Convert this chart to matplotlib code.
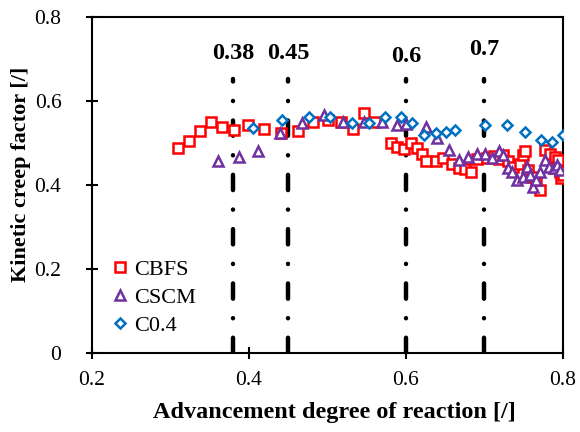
import matplotlib
matplotlib.use("Agg")
import matplotlib.pyplot as plt

plt.rcParams['font.family'] = ['Liberation Serif', 'DejaVu Serif']
plt.rcParams['lines.scale_dashes'] = False

cbfs_x = [0.309, 0.324, 0.337, 0.351, 0.365, 0.381, 0.399, 0.419, 0.441, 0.462,
          0.482, 0.501, 0.517, 0.533, 0.546, 0.561, 0.581, 0.589, 0.598, 0.607,
          0.614, 0.621, 0.626, 0.638, 0.647, 0.658, 0.667, 0.675, 0.683, 0.691,
          0.703, 0.712, 0.718, 0.724, 0.730, 0.736, 0.745, 0.749, 0.752, 0.756,
          0.760, 0.766, 0.771, 0.777, 0.783, 0.788, 0.790, 0.794, 0.796, 0.798, 0.800]
cbfs_y = [0.487, 0.504, 0.529, 0.551, 0.539, 0.531, 0.543, 0.533, 0.525, 0.529,
          0.549, 0.555, 0.549, 0.533, 0.571, 0.549, 0.501, 0.490, 0.485, 0.501,
          0.487, 0.474, 0.458, 0.458, 0.465, 0.450, 0.440, 0.437, 0.432, 0.462,
          0.465, 0.470, 0.462, 0.471, 0.456, 0.444, 0.451, 0.471, 0.480, 0.436,
          0.420, 0.404, 0.388, 0.483, 0.475, 0.440, 0.467, 0.460, 0.432, 0.416, 0.425]

cscm_x = [0.361, 0.387, 0.412, 0.439, 0.468, 0.495, 0.520, 0.546, 0.569, 0.588,
          0.600, 0.625, 0.640, 0.655, 0.668, 0.679, 0.691, 0.701, 0.709, 0.718,
          0.724, 0.730, 0.735, 0.741, 0.749, 0.754, 0.758, 0.762, 0.766, 0.771,
          0.777, 0.782, 0.788, 0.792, 0.796]
cscm_y = [0.457, 0.466, 0.481, 0.525, 0.547, 0.567, 0.551, 0.549, 0.549, 0.543,
          0.545, 0.539, 0.511, 0.483, 0.460, 0.467, 0.474, 0.475, 0.464, 0.482,
          0.471, 0.440, 0.432, 0.412, 0.420, 0.444, 0.424, 0.396, 0.412, 0.432,
          0.460, 0.444, 0.440, 0.448, 0.436]

c04_x = [0.405, 0.442, 0.476, 0.503, 0.531, 0.553, 0.573, 0.594, 0.608, 0.623,
         0.638, 0.651, 0.662, 0.701, 0.729, 0.752, 0.772, 0.786, 0.800]
c04_y = [0.536, 0.555, 0.563, 0.563, 0.547, 0.547, 0.563, 0.563, 0.547, 0.519,
         0.523, 0.527, 0.531, 0.543, 0.543, 0.527, 0.507, 0.503, 0.519]

ref_x = [0.38, 0.45, 0.6, 0.7]
ref_labels = ['0.38', '0.45', '0.6', '0.7']
ref_label_y = [0.712, 0.712, 0.707, 0.722]
ref_top = 0.652

x_ticks = [0.2, 0.4, 0.6, 0.8]
y_ticks = [0, 0.2, 0.4, 0.6, 0.8]

fig = plt.figure(figsize=(5.8, 4.32), dpi=100)
ax = fig.add_axes([92/580, 1-353/432, 471/580, 336/432])

for xv, lab, ly in zip(ref_x, ref_labels, ref_label_y):
    ax.plot([xv, xv], [0, ref_top], color='black', lw=3.2,
            linestyle=(0, (11, 14, 0.1, 14)), dash_capstyle='round',
            solid_capstyle='round', zorder=1)
    ax.text(xv, ly, lab, ha='center', va='center', fontsize=17.5,
            fontweight='bold')

ax.plot(cbfs_x, cbfs_y, 's', ms=7, mfc='white', mec='#FF0000', mew=1.8,
        label='CBFS', zorder=3)
ax.plot(cscm_x, cscm_y, '^', ms=7.5, mfc='white', mec='#7030A0', mew=1.8,
        label='CSCM', zorder=3)
ax.plot(c04_x, c04_y, 'D', ms=5.5, mfc='white', mec='#0070C0', mew=1.8,
        label='C0.4', zorder=3)

ax.set_xlim(0.2, 0.8)
ax.set_ylim(0, 0.8)
ax.set_xticks(x_ticks)
ax.set_yticks(y_ticks)
ax.set_xticklabels([f'{v:g}' for v in x_ticks])
ax.set_yticklabels([f'{v:g}' for v in y_ticks])
ax.tick_params(direction='inout', length=8, width=1.5, labelsize=15.5,
               top=False, right=False)
ax.tick_params(axis='y', pad=18)
ax.tick_params(axis='x', pad=9)
for s in ax.spines.values():
    s.set_linewidth(1.5)

ax.set_xlabel('Advancement degree of reaction [/]', fontsize=17.5,
              fontweight='bold')
ax.xaxis.set_label_coords((334 - 92) / 471, -0.145)
ax.set_ylabel('Kinetic creep factor [/]', fontsize=16, fontweight='bold')
ax.yaxis.set_label_coords(-(92 - 31) / 471, (353 - 174) / 336)

leg = ax.legend(loc='upper left', bbox_to_anchor=(0.012, 0.305), frameon=False,
                fontsize=16, handletextpad=0.02, labelspacing=0.33,
                handlelength=1.2, numpoints=1, borderaxespad=0)

fig.savefig('out.png', dpi=100)
